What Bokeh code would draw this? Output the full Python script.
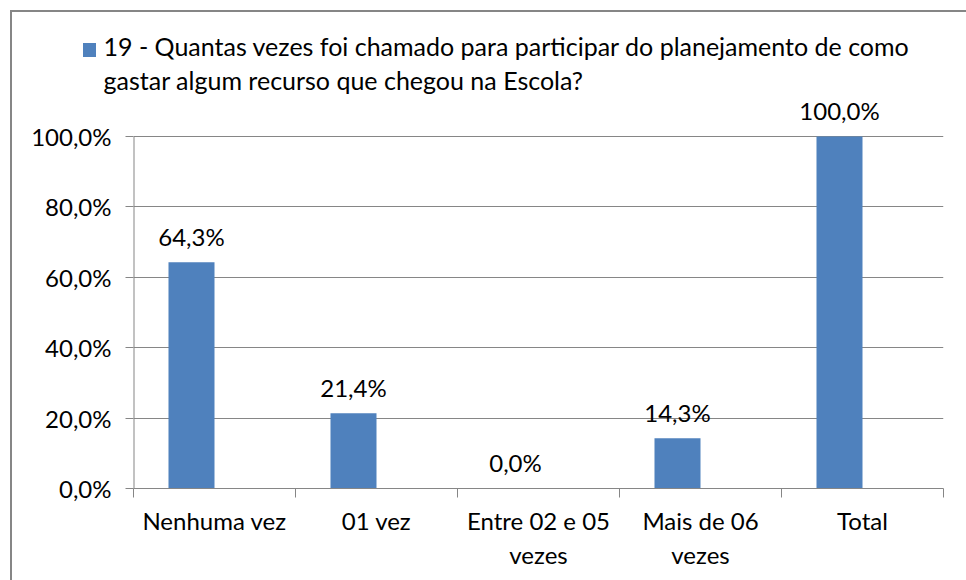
from bokeh.plotting import figure
from bokeh.models import (Range1d, FixedTicker, ColumnDataSource, LabelSet, Title)
from bokeh.core.properties import value
from bokeh.embed import file_html
from bokeh.resources import INLINE

categories = ["Nenhuma vez", "01 vez", "Entre 02 e 05\nvezes", "Mais de 06\nvezes", "Total"]
values = [64.3, 21.4, 0.0, 14.3, 100.0]
y_ticks = [0, 20, 40, 60, 80, 100]
y_tick_labels = ["0,0%", "20,0%", "40,0%", "60,0%", "80,0%", "100,0%"]
legend_line1 = "19 - Quantas vezes foi chamado para participar do planejamento de como"
legend_line2 = "gastar algum recurso que chegou na Escola?"

FONT = "Lato"
FS = "24px"
FS_LEG = "25px"
BLUE = "#4F81BD"
GREY = "#868686"

W, H = 966, 580
BL, BR, BT, BB = 133, 23, 96, 92
FB = H - BB          # frame bottom (canvas px)
TOP100 = 136         # where 100 % sits (canvas px)
y_max = y_ticks[-1] * (FB - BT) / (FB - TOP100)

p = figure(width=W, height=H, output_backend="svg", toolbar_location=None,
           x_range=Range1d(0, len(categories)), y_range=Range1d(0, y_max),
           min_border_left=BL, min_border_right=BR, min_border_top=BT,
           min_border_bottom=BB)
p.outline_line_color = None
p.border_fill_color = None
p.background_fill_color = None
# white page, legend colour key, and the chart's grey border (left/top edges visible)
p.styles = {
    "background": f"linear-gradient({BLUE}, {BLUE}) 83px 43px / 13px 14px no-repeat, #ffffff",
    "box-shadow": "inset 10px 10px 0 0 #ffffff, inset 12px 12px 0 0 #868686",
}
p.xgrid.grid_line_color = None
p.ygrid.grid_line_color = GREY
p.ygrid.ticker = FixedTicker(ticks=y_ticks)

centers = [i + 0.5 for i in range(len(categories))]
bar_x = [c - 0.142 for c in centers]
labels = [f"{v:.1f}".replace(".", ",") + "%" for v in values]
src = ColumnDataSource(dict(x=bar_x, y=values, label=labels))
bars = p.vbar(x="x", top="y", width=0.284, source=src, fill_color=BLUE, line_color=None)

p.add_layout(LabelSet(x="x", y="y", text="label", source=src, y_offset=26,
                      text_align="center", text_baseline="middle",
                      text_font=value(FONT), text_font_size=value(FS),
                      text_color="#000000"))

# y axis (line drawn only from 0 to 100)
ya = p.yaxis[0]
ya.ticker = FixedTicker(ticks=y_ticks)
ya.major_label_overrides = {t: l for t, l in zip(y_ticks, y_tick_labels)}
ya.axis_line_color = None
ya.major_tick_line_color = GREY
ya.major_tick_out = 8
ya.major_tick_in = 0
ya.minor_tick_line_color = None
ya.major_label_standoff = 14
ya.major_label_text_font = FONT
ya.major_label_text_font_size = FS
ya.major_label_text_color = "#000000"
p.segment(x0=[0], y0=[y_ticks[0]], x1=[0], y1=[y_ticks[-1]], line_color=GREY, line_width=2)

# x axis
xa = p.xaxis[0]
xa.ticker = FixedTicker(ticks=centers, minor_ticks=list(range(len(categories) + 1)))
xa.major_label_overrides = {c: l for c, l in zip(centers, categories)}
xa.axis_line_color = GREY
xa.major_tick_line_color = None
xa.major_tick_out = 0
xa.major_tick_in = 0
xa.minor_tick_line_color = GREY
xa.minor_tick_out = 9
xa.minor_tick_in = 0
xa.major_label_standoff = 8
xa.major_label_text_font = FONT
xa.major_label_text_font_size = FS
xa.major_label_text_color = "#000000"

# legend text: two title lines (second line closest to the frame)
for line, so in ((legend_line2, 4), (legend_line1, 0)):
    p.add_layout(Title(text=line, align="left", offset=-30, standoff=so,
                       text_font=FONT, text_font_size=FS_LEG, text_font_style="normal",
                       text_color="#000000"), "above")

open("out.html", "w").write(file_html(p, INLINE))
